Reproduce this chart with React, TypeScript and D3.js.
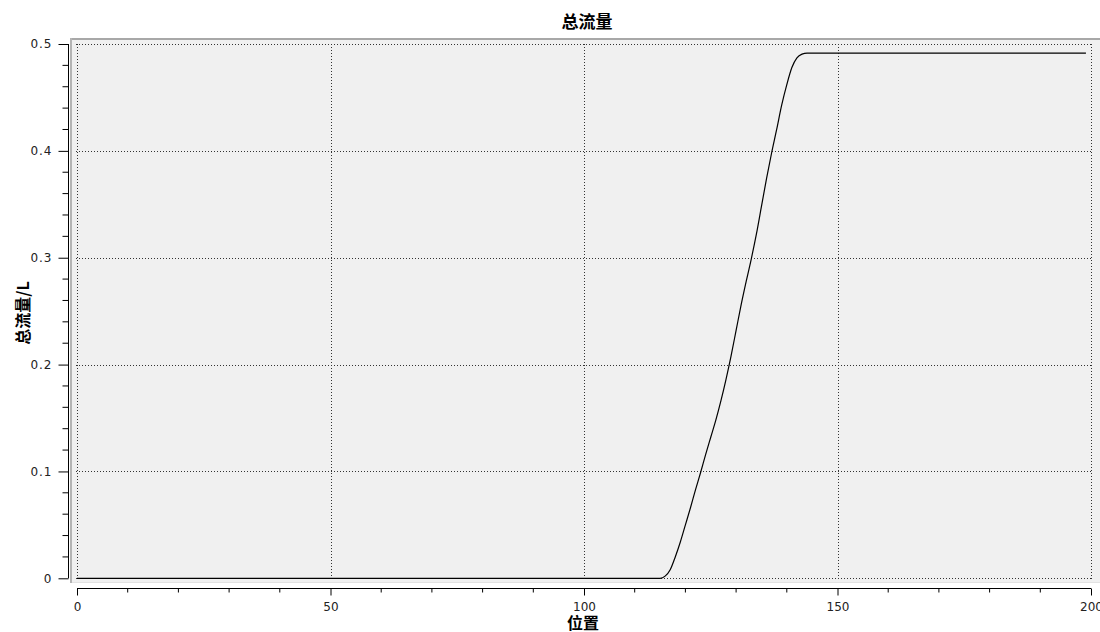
import React, { useEffect, useRef } from 'react';
import * as d3 from 'd3';

// 位置 (x) 和 总流量 (y)，平段只保留端点
const positions = [0, 115, 116, 117, 118, 119, 120, 121, 122, 123, 124, 125, 126, 127, 128, 129, 130,
  131, 132, 133, 134, 135, 136, 137, 138, 139, 140, 141, 142, 143, 144, 199];
const flowValues = [0, 0, 0.002, 0.008, 0.02, 0.034, 0.05, 0.066, 0.083, 0.099, 0.116, 0.132, 0.148, 0.166,
  0.186, 0.208, 0.232, 0.256, 0.278, 0.299, 0.322, 0.348, 0.374, 0.398, 0.42, 0.443, 0.462, 0.478, 0.487,
  0.4905, 0.4915, 0.4915];
const xTicks = [0, 50, 100, 150, 200];
const yTicks = [0, 0.1, 0.2, 0.3, 0.4, 0.5];

const App = () => {
  const ref = useRef<SVGSVGElement>(null);

  useEffect(() => {
    const svg = d3.select(ref.current);
    svg.selectAll('*').remove();

    const width = 1100, height = 632;
    const x = d3.scaleLinear().domain([0, 200]).range([77, 1091]);
    const y = d3.scaleLinear().domain([0, 0.5]).range([578.3, 44]);

    svg.append('rect').attr('width', width).attr('height', height).attr('fill', '#fff');

    // 绘图区背景 + 边框
    svg.append('rect')
      .attr('x', 71).attr('y', 39).attr('width', width - 71).attr('height', 544)
      .attr('fill', '#f0f0f0');
    svg.append('line').attr('x1', 70).attr('x2', width).attr('y1', 39).attr('y2', 39)
      .attr('stroke', '#a8a8a8').attr('stroke-width', 2);
    svg.append('line').attr('x1', 71).attr('x2', 71).attr('y1', 38).attr('y2', 583)
      .attr('stroke', '#b4b4b4').attr('stroke-width', 2);
    svg.append('line').attr('x1', 72).attr('x2', width).attr('y1', 582.5).attr('y2', 582.5)
      .attr('stroke', '#e2e2e2').attr('stroke-width', 1);

    // 网格
    const grid = svg.append('g').attr('stroke', '#333').attr('stroke-width', 1)
      .attr('stroke-dasharray', '1,2').attr('shape-rendering', 'crispEdges');
    grid.selectAll('.vg').data(xTicks).enter().append('line')
      .attr('x1', d => Math.round(x(d)) + 0.5).attr('x2', d => Math.round(x(d)) + 0.5)
      .attr('y1', 44).attr('y2', 579);
    grid.selectAll('.hg').data(yTicks).enter().append('line')
      .attr('y1', d => Math.round(y(d)) + 0.5).attr('y2', d => Math.round(y(d)) + 0.5)
      .attr('x1', 76).attr('x2', 1093);

    // y轴
    const yAxis = d3.axisLeft(y).tickValues(yTicks).tickSize(10).tickPadding(6)
      .tickFormat(d => d === 0 ? '0' : d3.format('.1f')(d as number));
    const gy = svg.append('g').attr('transform', 'translate(68.5,0)').call(yAxis);
    gy.select('.domain').attr('d', `M0,${y(0.5)}V${y(0)}`);
    gy.selectAll('.tick line').attr('stroke', '#000');
    gy.selectAll('text').attr('font-family', '"DejaVu Sans", sans-serif').attr('font-size', 12)
      .attr('fill', '#222').attr('letter-spacing', 1);
    const yMinor = d3.range(0, 0.5001, 0.02).filter(v => Math.abs(v * 10 - Math.round(v * 10)) > 1e-6);
    gy.selectAll('.minor').data(yMinor).enter().append('line')
      .attr('x1', -6).attr('x2', 0).attr('y1', d => y(d)).attr('y2', d => y(d))
      .attr('stroke', '#000');

    // x轴
    const xAxis = d3.axisBottom(x).tickValues(xTicks).tickSize(7).tickPadding(7).tickFormat(d3.format('d'));
    const gx = svg.append('g').attr('transform', 'translate(0,588.5)').call(xAxis);
    gx.select('.domain').attr('d', `M${x(0)},0H${x(200)}`);
    gx.selectAll('text').attr('font-family', '"DejaVu Sans", sans-serif').attr('font-size', 12)
      .attr('fill', '#222');
    const xMinor = d3.range(10, 200, 10).filter(v => v % 50 !== 0);
    gx.selectAll('.minor').data(xMinor).enter().append('line')
      .attr('x1', d => x(d)).attr('x2', d => x(d)).attr('y1', 0).attr('y2', 4)
      .attr('stroke', '#000');

    // 曲线
    const line = d3.line<number>()
      .x((d, i) => x(positions[i]))
      .y(d => y(d))
      .curve(d3.curveMonotoneX);
    svg.append('path').datum(flowValues)
      .attr('d', line)
      .attr('fill', 'none').attr('stroke', '#000').attr('stroke-width', 1.2);

    // 标题和轴标题
    const cjk = '"Noto Sans CJK SC", sans-serif';
    svg.append('text').attr('x', 587).attr('y', 28).attr('text-anchor', 'middle')
      .attr('font-family', cjk).attr('font-weight', 'bold').attr('font-size', 17)
      .text('总流量');
    svg.append('text').attr('transform', 'translate(29,313) rotate(-90)').attr('text-anchor', 'middle')
      .attr('font-family', cjk).attr('font-weight', 'bold').attr('font-size', 16)
      .text('总流量/L');
    svg.append('text').attr('x', 583).attr('y', 629).attr('text-anchor', 'middle')
      .attr('font-family', cjk).attr('font-weight', 'bold').attr('font-size', 16)
      .text('位置');
  }, []);

  return (
    <svg ref={ref} width={1100} height={632}
         style={{ position: 'absolute', left: 0, top: 0, display: 'block' }} />
  );
};

export default App;
